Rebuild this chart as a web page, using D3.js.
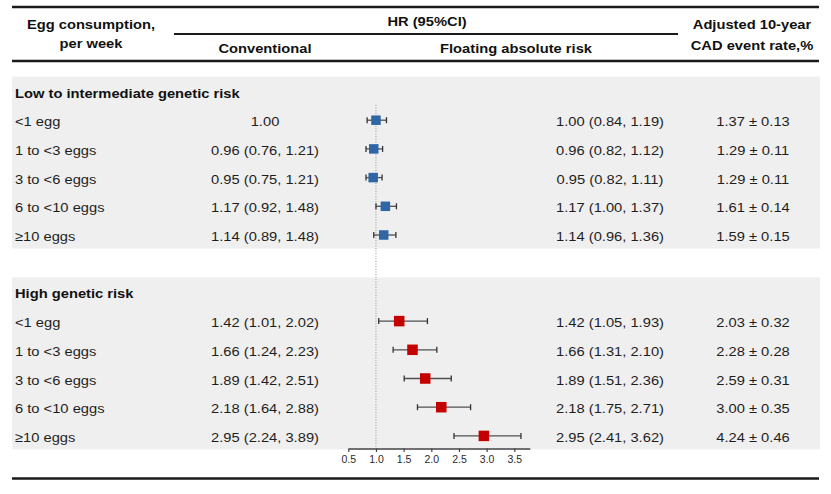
<!DOCTYPE html>
<html>
<head>
<meta charset="utf-8">
<script src="https://cdn.jsdelivr.net/npm/d3@7"></script>
<style>
  html, body { margin: 0; padding: 0; background: #fff; }
  svg { display: block; }
  text { font-family: "Liberation Sans", Arial, Helvetica, sans-serif; }
</style>
</head>
<body>
<svg id="chart" width="831" height="494"></svg>
<script>
// ---------- data ----------
const categories = ['<1 egg', '1 to <3 eggs', '3 to <6 eggs', '6 to <10 eggs', '\u226510 eggs'];
const groups = ['Low to intermediate genetic risk', 'High genetic risk'];

const lowHR      = [1.00, 0.96, 0.95, 1.17, 1.14];
const lowConvLo  = [null, 0.76, 0.75, 0.92, 0.89];
const lowConvHi  = [null, 1.21, 1.21, 1.48, 1.48];
const lowFarLo   = [0.84, 0.82, 0.82, 1.00, 0.96];
const lowFarHi   = [1.19, 1.12, 1.11, 1.37, 1.36];
const lowRate    = [1.37, 1.29, 1.29, 1.61, 1.59];
const lowRateSD  = [0.13, 0.11, 0.11, 0.14, 0.15];

const highHR     = [1.42, 1.66, 1.89, 2.18, 2.95];
const highConvLo = [1.01, 1.24, 1.42, 1.64, 2.24];
const highConvHi = [2.02, 2.23, 2.51, 2.88, 3.89];
const highFarLo  = [1.05, 1.31, 1.51, 1.75, 2.41];
const highFarHi  = [1.93, 2.10, 2.36, 2.71, 3.62];
const highRate   = [2.03, 2.28, 2.59, 3.00, 4.24];
const highRateSD = [0.32, 0.28, 0.31, 0.35, 0.46];

const axisTicks = [0.5, 1.0, 1.5, 2.0, 2.5, 3.0, 3.5];
const headers = {
  col1: ['Egg consumption,', 'per week'],
  hr: 'HR (95%CI)',
  conv: 'Conventional',
  far: 'Floating absolute risk',
  rate: ['Adjusted 10-year', 'CAD event rate,%']
};

// ---------- build rows ----------
const f2 = d3.format('.2f');
const sections = [
  { name: groups[0], hr: lowHR, cLo: lowConvLo, cHi: lowConvHi, fLo: lowFarLo, fHi: lowFarHi, rate: lowRate, sd: lowRateSD, color: '#2f66a6', size: 9.5, start: 0 },
  { name: groups[1], hr: highHR, cLo: highConvLo, cHi: highConvHi, fLo: highFarLo, fHi: highFarHi, rate: highRate, sd: highRateSD, color: '#c50000', size: 10.5, start: 7 }
];
const rows = [];
sections.forEach(s => {
  categories.forEach((c, i) => {
    rows.push({
      section: s, idx: s.start + 1 + i, label: c,
      hr: s.hr[i], fLo: s.fLo[i], fHi: s.fHi[i],
      conv: s.cLo[i] == null ? f2(s.hr[i]) : `${f2(s.hr[i])} (${f2(s.cLo[i])}, ${f2(s.cHi[i])})`,
      far: `${f2(s.hr[i])} (${f2(s.fLo[i])}, ${f2(s.fHi[i])})`,
      rateTxt: `${f2(s.rate[i])} \u00b1 ${f2(s.sd[i])}`
    });
  });
});

// ---------- scales ----------
const svg = d3.select('#chart');
const y = d3.scaleLinear().domain([0, 12]).range([97.5, 441.9]); // text baselines
const x = d3.scaleLinear().domain([0.5, 3.78]).range([348.3, 529.8]);

const SX = 1.09;
function txt(xp, yp, s, anchor, opts = {}) {
  return svg.append('text')
    .attr('transform', `translate(${xp},${yp}) scale(${opts.sx || SX},1)`)
    .attr('text-anchor', anchor)
    .attr('font-size', opts.size || 13.5)
    .attr('font-weight', opts.bold ? 'bold' : 'normal')
    .attr('fill', opts.fill || '#1e1e1e')
    .text(s);
}

// ---------- panels ----------
sections.forEach(s => {
  svg.append('rect')
    .attr('x', 12).attr('width', 808)
    .attr('y', y(s.start) - 21).attr('height', y(s.start + 5) - y(s.start) + 28.5)
    .attr('fill', '#efefef');
});

// ---------- rules ----------
const rule = (x1, x2, yy, w) => svg.append('line').attr('x1', x1).attr('x2', x2).attr('y1', yy).attr('y2', yy)
  .attr('stroke', '#1a1a1a').attr('stroke-width', w);
rule(12, 819, 7, 2.4);
rule(174, 678, 34, 1.8);
rule(12, 819, 61, 2.6);
rule(12, 819, 478.5, 2.6);

// ---------- headers ----------
txt(91, 28.5, headers.col1[0], 'middle', { bold: true, fill: '#111' });
txt(91, 48, headers.col1[1], 'middle', { bold: true, fill: '#111' });
txt(427, 25.5, headers.hr, 'middle', { bold: true, fill: '#111' });
txt(265, 52.5, headers.conv, 'middle', { bold: true, fill: '#111' });
txt(516, 52.5, headers.far, 'middle', { bold: true, fill: '#111' });
txt(752, 28.5, headers.rate[0], 'middle', { bold: true, fill: '#111' });
txt(752, 49.5, headers.rate[1], 'middle', { bold: true, fill: '#111' });

// ---------- section titles ----------
sections.forEach(s => txt(15, y(s.start), s.name, 'start', { bold: true, fill: '#111' }));

// ---------- row texts ----------
rows.forEach(r => {
  txt(15, y(r.idx), r.label, 'start');
  txt(265, y(r.idx), r.conv, 'middle');
  txt(610, y(r.idx), r.far, 'middle');
  txt(753, y(r.idx), r.rateTxt, 'middle');
});

// ---------- reference line ----------
svg.append('line')
  .attr('x1', x(1)).attr('x2', x(1)).attr('y1', 105).attr('y2', 448)
  .attr('stroke', '#8a8a8a').attr('stroke-width', 0.9).attr('stroke-dasharray', '1,1.6');

// ---------- axis ----------
const axis = d3.axisBottom(x).tickValues(axisTicks).tickFormat(d3.format('.1f')).tickSizeInner(3.5).tickSizeOuter(0).tickPadding(4);
const ag = svg.append('g').attr('transform', 'translate(0,448.5)').call(axis);
ag.select('.domain').attr('stroke', '#444').attr('stroke-width', 1.3);
ag.selectAll('.tick line').attr('stroke', '#444').attr('stroke-width', 1.2);
ag.selectAll('.tick text').attr('font-size', 10.5).attr('fill', '#2a2a2a')
  .attr('font-family', '"Liberation Sans", Arial, sans-serif');

// ---------- error bars and markers ----------
const cy = r => y(r.idx) - 6;
const eb = svg.append('g');
rows.forEach(r => {
  eb.append('line').attr('x1', x(r.fLo)).attr('x2', x(r.fHi)).attr('y1', cy(r)).attr('y2', cy(r))
    .attr('stroke', '#505050').attr('stroke-width', 1.3);
  [r.fLo, r.fHi].forEach(v => eb.append('line')
    .attr('x1', x(v)).attr('x2', x(v)).attr('y1', cy(r) - 3).attr('y2', cy(r) + 3)
    .attr('stroke', '#333').attr('stroke-width', 1.3));
});
svg.append('g').selectAll('rect').data(rows).join('rect')
  .attr('x', r => x(r.hr) - r.section.size / 2).attr('y', r => cy(r) - r.section.size / 2)
  .attr('width', r => r.section.size).attr('height', r => r.section.size)
  .attr('fill', r => r.section.color);
</script>
</body>
</html>
